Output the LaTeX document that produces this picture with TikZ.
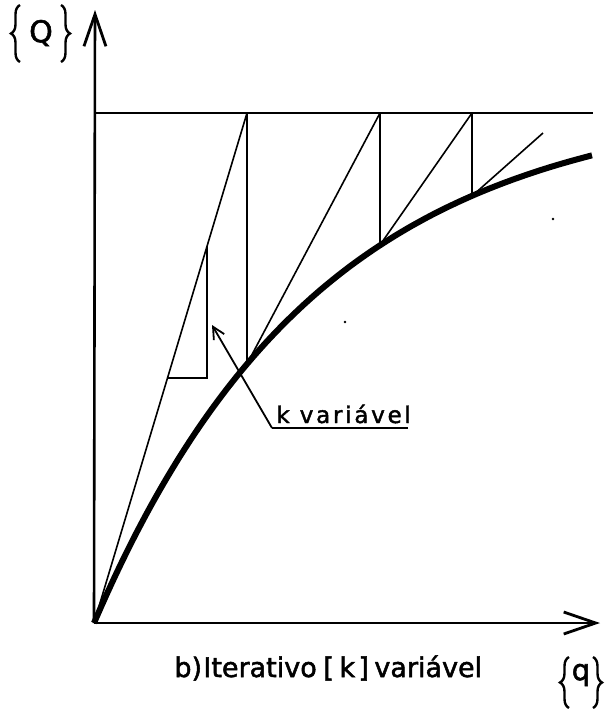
\documentclass[tikz,border=0pt]{standalone}
\usepackage{fontspec}
\setmainfont[FakeBold=1.8,AutoFakeBold=1.8]{DejaVu Sans}
\newfontfamily\spaced[LetterSpace=12,FakeBold=1.8]{DejaVu Sans}
\newfontfamily\labfont[FakeBold=1.8]{DejaVu Sans}
\usetikzlibrary{arrows.meta,decorations.pathreplacing}
\tikzset{
  axis/.style={line width=1.3pt},
  thin line/.style={line width=0.8pt},
  vert line/.style={line width=1.1pt},
  curve line/.style={line width=3pt},
  big barb/.style={-{Straight Barb[length=16pt,width=11pt,line width=1.4pt]}},
  small barb/.style={-{Straight Barb[length=6pt,width=6pt]}},
  lbl/.style={inner sep=0pt, anchor=base west, font=\labfont\fontsize{13.5}{16}\selectfont},
  bracepath/.style={decorate, decoration={brace, amplitude=4.5pt}, line width=1.2pt},
}
\begin{document}
\begin{tikzpicture}[x=0.5pt,y=-0.5pt]
\useasboundingbox (0,0) rectangle (610,709);
% key points
\coordinate (O) at (94,623);
\coordinate (Ytip) at (95,10);
\coordinate (Xtip) at (600,623);
\coordinate (T0) at (94,113);
\coordinate (Tend) at (593,113);
\coordinate (A1) at (247,113);
\coordinate (C1) at (247,364);
\coordinate (A2) at (380,113);
\coordinate (C2) at (380,245);
\coordinate (A3) at (472,113);
\coordinate (C3) at (472,196);
\coordinate (D4) at (543,133);
\coordinate (S1) at (207,246);
\coordinate (S2) at (207,378);
\coordinate (S3) at (167,378);
\coordinate (L0) at (272,428);
\coordinate (L1) at (408,428);
\coordinate (Ltip) at (212,325);
% axes
\draw[axis,big barb] (O) -- (Ytip);
\draw[axis,big barb] (O) -- (Xtip);
% top limit line
\draw[axis] (T0) -- (Tend);
% curve
\draw[curve line] plot[domain=0:498, samples=120, smooth] ({\x+94},{623-525*(1-exp(-\x/225))});
% iteration lines
\draw[thin line] (O) -- (A1);
\draw[vert line] (A1) -- (C1);
\draw[thin line] (C1) -- (A2);
\draw[vert line] (A2) -- (C2);
\draw[thin line] (C2) -- (A3);
\draw[vert line] (A3) -- (C3);
\draw[thin line] (C3) -- (D4);
% small step
\draw[vert line] (S1) -- (S2) -- (S3);
% label leader
\draw[line width=0.9pt] (L1) -- (L0);
\draw[line width=0.9pt,small barb] (L0) -- (Ltip);
\node[inner sep=0pt, anchor=base west, font=\spaced\fontsize{11.5}{13}\selectfont] (kv) at (276,423) {k variável};
% stray dots
\fill (345,322) circle (1.3);
\fill (553,219) circle (1.3);
% Q label
\draw[bracepath] (20,62) -- (20,5);
\draw[bracepath] (61,5) -- (61,62);
\node[inner sep=0pt, font=\labfont\fontsize{15}{16}\selectfont] (Q) at (41,33) {Q};
% bottom caption
\node[lbl] (b) at (174,677) {b)};
\node[lbl] (it) at (203,677) {Iterativo};
\node[lbl] (lb) at (323,677) {[};
\node[lbl] (k) at (339,677) {k};
\node[lbl] (rb) at (358,677) {]};
\node[lbl] (va) at (374,677) {variável};
% q label
\draw[bracepath] (569,708) -- (569,657);
\draw[bracepath] (593,657) -- (593,708);
\node[inner sep=0pt, font=\labfont\fontsize{14.5}{16}\selectfont] (q) at (581,675) {q};
\end{tikzpicture}
\end{document}
